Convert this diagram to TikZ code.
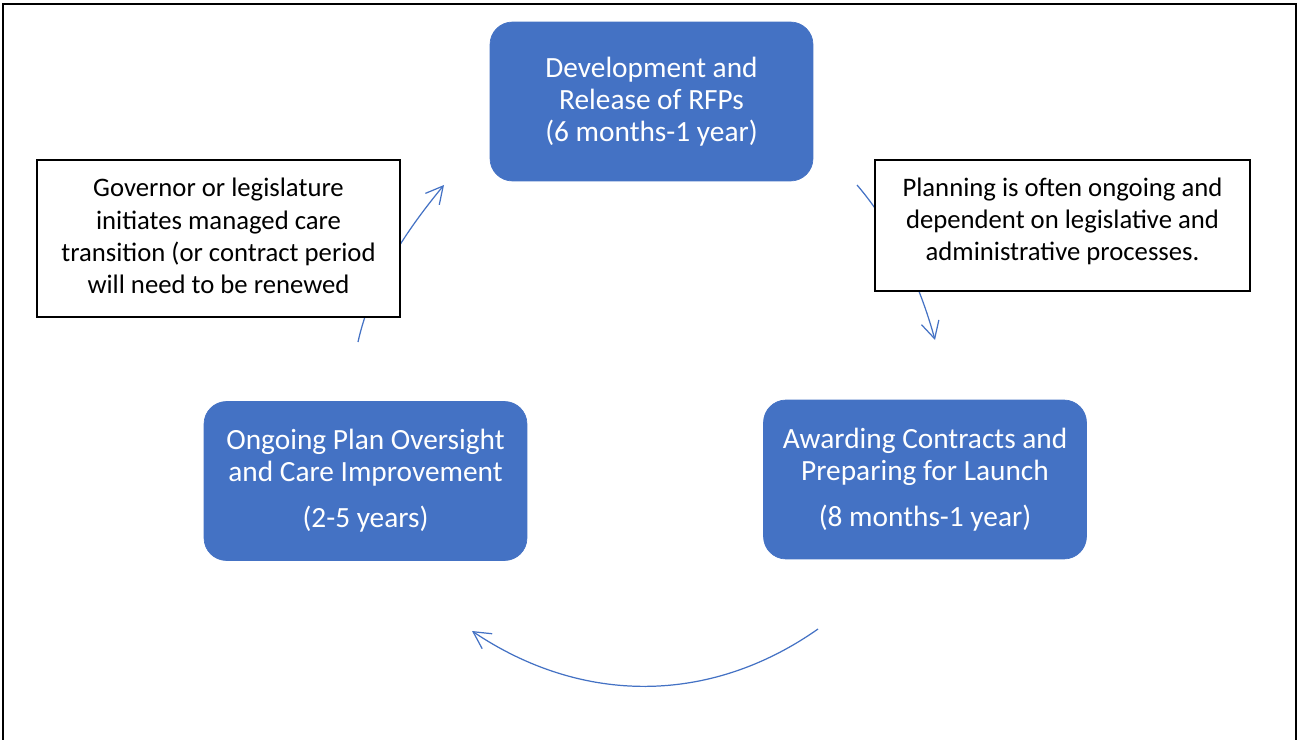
\documentclass[tikz,border=0pt]{standalone}
\usepackage{fontspec}
\setmainfont{Carlito}
\usetikzlibrary{arrows.meta}
\definecolor{stageblue}{HTML}{4472C4}
\tikzset{stage/.style={draw=stageblue, fill=stageblue, rounded corners=0.45cm,
  minimum width=6.46cm, minimum height=3.18cm, text=white, align=center,
  font=\fontsize{16.7}{18.2}\selectfont}}
\tikzset{note/.style={draw=black, fill=white, line width=1pt, align=center,
  font=\fontsize{15.2}{18.3}\selectfont}}
\tikzset{flow/.style={draw=stageblue, line width=0.7pt,
  -{Straight Barb[length=0.34cm,width=0.36cm]}}}

\begin{document}
\begin{tikzpicture}[x=0.02cm, y=-0.02cm]
      \useasboundingbox (0,0) rectangle (1299,740);
      \draw [line width=1.1pt] (3,740) -- (3,4) -- (1296,4) -- (1296,740);

      % the three stages
      \node [stage] (rfp) at (651.5,101.5) {Development and\\Release of RFPs\\(6 months-1 year)};
      \node [stage] (oversight) at (365.5,481) {Ongoing Plan Oversight\\and Care Improvement\\[0.28cm](2-5 years)};
      \node [stage] (award) at (925,479.5) {Awarding Contracts and\\Preparing for Launch\\[0.28cm](8 months-1 year)};

      % ends of the cycle arrows
      \coordinate (upfrom) at (358,342);
      \coordinate (upto) at (444,185);
      \coordinate (downfrom) at (857,185);
      \coordinate (downto) at (935,340);
      \coordinate (backfrom) at (818,629);
      \coordinate (backto) at (472,631);

      \draw [flow] (upfrom) .. controls (371,283) and (406,231) .. (upto);
      \draw [flow] (downfrom) .. controls (894,228) and (920,285) .. (downto);
      \draw [flow] (backfrom) .. controls (710,705) and (582,705) .. (backto);

      % notes sit on top of the arrows
      \node [note, text depth=3pt, minimum width=7.26cm, minimum height=3.14cm] (start) at (218.5,238.5) {Governor or legislature\\initiates managed care\\transition (or contract period\\will need to be renewed};
      \node [note, text depth=7pt, minimum width=7.5cm, minimum height=2.62cm] (planning) at (1062.5,225.5) {Planning is often ongoing and\\dependent on legislative and\\administrative processes.};
\end{tikzpicture}
\end{document}
